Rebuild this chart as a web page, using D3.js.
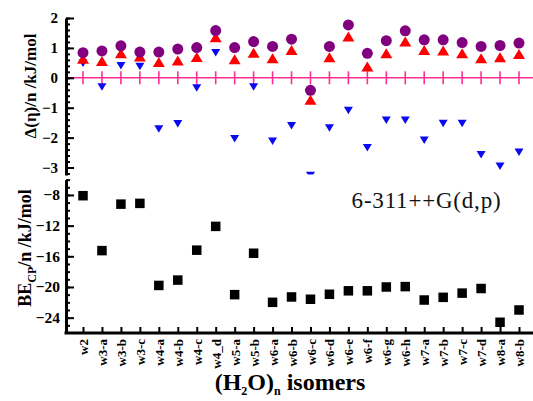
<!DOCTYPE html>
<html><head><meta charset="utf-8">
<script src="https://cdn.jsdelivr.net/npm/d3@7"></script>
<style>body{margin:0;background:#fff}svg{display:block}</style>
</head><body>
<svg id="c" width="533" height="401"></svg>
<script>
const categories = ["w2","w3-a","w3-b","w3-c","w4-a","w4-b","w4-c","w4_d","w5-a","w5-b","w6-a","w6-b","w6-c","w6-d","w6-e","w6-f","w6-g","w6-h","w7-a","w7-b","w7-c","w7-d","w8-a","w8-b"];
const circleVals = [0.84,0.90,1.07,0.86,0.86,0.96,1.01,1.58,1.01,1.21,1.05,1.29,-0.42,1.05,1.77,0.82,1.24,1.57,1.27,1.27,1.18,1.05,1.08,1.16];
const upTriVals = [0.64,0.56,0.82,0.71,0.53,0.58,0.70,1.36,0.62,0.84,0.65,0.93,-0.73,0.69,1.38,0.38,0.82,1.21,0.93,0.91,0.82,0.65,0.69,0.80];
const downTriVals = [0.49,-0.31,0.40,0.38,-1.71,-1.54,-0.34,0.84,-2.04,-0.31,-2.12,-1.60,-3.27,-1.68,-1.09,-2.34,-1.42,-1.42,-2.09,-1.53,-1.53,-2.57,-2.96,-2.49];
const beVals = [-8.1,-15.26,-9.2,-9.1,-19.8,-19.1,-15.2,-12.1,-21.0,-15.6,-22.0,-21.3,-21.6,-20.95,-20.5,-20.5,-20.0,-19.95,-21.7,-21.35,-20.8,-20.2,-24.6,-23.0];
const topTicks = [-3,-2,-1,0,1,2];
const bottomTicks = [-24,-20,-16,-12,-8];

const svg = d3.select("#c");
const serif = "'Liberation Serif','Times New Roman',serif";
const axX = 66;

const x = d3.scalePoint().domain(categories).range([83, 519]);
const yTop = d3.scaleLinear().domain([-3.25, 2]).range([175, 18]);
const yBot = d3.scaleLinear().domain([-26, -6]).range([333, 179.6]);

svg.append("clipPath").attr("id","topclip").append("rect")
  .attr("x", axX).attr("y", 0).attr("width", 533-axX).attr("height", 174.5);

// pink zero line with ticks
const zeroG = svg.append("g");
zeroG.append("line").attr("x1", axX).attr("x2", 533).attr("y1", yTop(0)).attr("y2", yTop(0))
  .attr("stroke", "#ff2e93").attr("stroke-width", 1.6);
zeroG.selectAll("line.t").data(categories).join("line").attr("class","t")
  .attr("x1", d=>x(d)).attr("x2", d=>x(d))
  .attr("y1", yTop(0)-6.5).attr("y2", yTop(0)+6.5)
  .attr("stroke", "#ff2e93").attr("stroke-width", 1.6);

// top left axis
const topMinor = d3.range(-3.2, 2.001, 0.2).map(v=>+v.toFixed(1));
svg.append("g").attr("transform", `translate(${axX},0)`)
  .call(d3.axisLeft(yTop).tickValues(topMinor).tickSizeInner(-4).tickSizeOuter(0).tickFormat(""))
  .call(g=>{g.select(".domain").attr("stroke-width",3).attr("stroke","#000");g.selectAll("line").attr("stroke-width",2);});
svg.append("g").attr("transform", `translate(${axX},0)`)
  .call(d3.axisLeft(yTop).tickValues(topTicks).tickSizeInner(-8).tickSizeOuter(0).tickPadding(8).tickFormat(d3.format("d")))
  .call(g=>{g.select(".domain").remove();g.selectAll("line").attr("stroke-width",2);
    g.selectAll("text").attr("font-family",serif).attr("font-size",15).attr("font-weight","bold").attr("fill","#000");});

// bottom left axis
const botMinor = d3.range(-25, -5, 1);
svg.append("g").attr("transform", `translate(${axX},0)`)
  .call(d3.axisLeft(yBot).tickValues(botMinor).tickSizeInner(-4).tickSizeOuter(0).tickFormat(""))
  .call(g=>{g.select(".domain").attr("stroke-width",3).attr("stroke","#000");g.selectAll("line").attr("stroke-width",2);});
svg.append("g").attr("transform", `translate(${axX},0)`)
  .call(d3.axisLeft(yBot).tickValues(bottomTicks).tickSizeInner(-8).tickSizeOuter(0).tickPadding(6).tickFormat(d3.format("d")))
  .call(g=>{g.select(".domain").remove();g.selectAll("line").attr("stroke-width",2);
    g.selectAll("text").attr("font-family",serif).attr("font-size",15.5).attr("font-weight","bold").attr("fill","#000");});

// bottom x axis
svg.append("g").attr("transform", `translate(0,${yBot(-26)})`)
  .call(d3.axisBottom(x).tickSizeInner(-6).tickSizeOuter(0))
  .call(g=>{g.select(".domain").attr("d", `M${axX-1.5},0H533`).attr("stroke-width",3);
    g.selectAll("line").attr("stroke-width",2);
    g.selectAll("text").attr("font-family",serif).attr("font-size",13).attr("font-weight","bold").attr("fill","#000")
      .attr("transform","rotate(-90)").attr("text-anchor","end").attr("x",-6).attr("y",0).attr("dy","0.35em");});

// markers
const triUp = (w,h)=>`M0,${-h/2}L${w/2},${h/2}L${-w/2},${h/2}Z`;
const triDown = (w,h)=>`M0,${h/2}L${w/2},${-h/2}L${-w/2},${-h/2}Z`;
const topG = svg.append("g").attr("clip-path","url(#topclip)");
topG.selectAll("path.dn").data(categories).join("path").attr("class","dn")
  .attr("d", triDown(9,7.5)).attr("fill","#0a0af0")
  .attr("transform",(d,i)=>`translate(${x(d)},${yTop(downTriVals[i])})`);
topG.selectAll("path.up").data(categories).join("path").attr("class","up")
  .attr("d", triUp(12,10)).attr("fill","#ff0000")
  .attr("transform",(d,i)=>`translate(${x(d)},${yTop(upTriVals[i])})`);
topG.selectAll("circle").data(categories).join("circle")
  .attr("cx", d=>x(d)).attr("cy",(d,i)=>yTop(circleVals[i])).attr("r",5.5).attr("fill","#800080");

svg.append("g").selectAll("rect").data(categories).join("rect")
  .attr("x", d=>x(d)-4.75).attr("y",(d,i)=>yBot(beVals[i])-4.75).attr("width",9.5).attr("height",9.5).attr("fill","#000");

// titles
svg.append("text").attr("transform","translate(36,86) rotate(-90)").attr("text-anchor","middle")
  .attr("font-family",serif).attr("font-size",17).attr("font-weight","bold").text("Δ(η)/n /kJ/mol");
const bt = svg.append("text").attr("transform","translate(31,248) rotate(-90)").attr("text-anchor","middle")
  .attr("font-family",serif).attr("font-size",18).attr("font-weight","bold");
bt.append("tspan").text("BE");
bt.append("tspan").attr("font-size",12).attr("dy",5).text("CP");
bt.append("tspan").attr("dy",-5).text("/n /kJ/mol");

svg.append("text").attr("x",426.5).attr("y",208).attr("text-anchor","middle")
  .attr("font-family",serif).attr("font-size",23).attr("letter-spacing",0.8).attr("fill","#111").text("6-311++G(d,p)");

const xt = svg.append("text").attr("x",290).attr("y",390).attr("text-anchor","middle")
  .attr("font-family",serif).attr("font-size",24).attr("font-weight","bold");
xt.append("tspan").text("(H");
xt.append("tspan").attr("font-size",12).attr("dy",5).text("2");
xt.append("tspan").attr("dy",-5).text("O)");
xt.append("tspan").attr("font-size",12).attr("dy",5).text("n");
xt.append("tspan").attr("dy",-5).text(" isomers");
</script>
</body></html>
